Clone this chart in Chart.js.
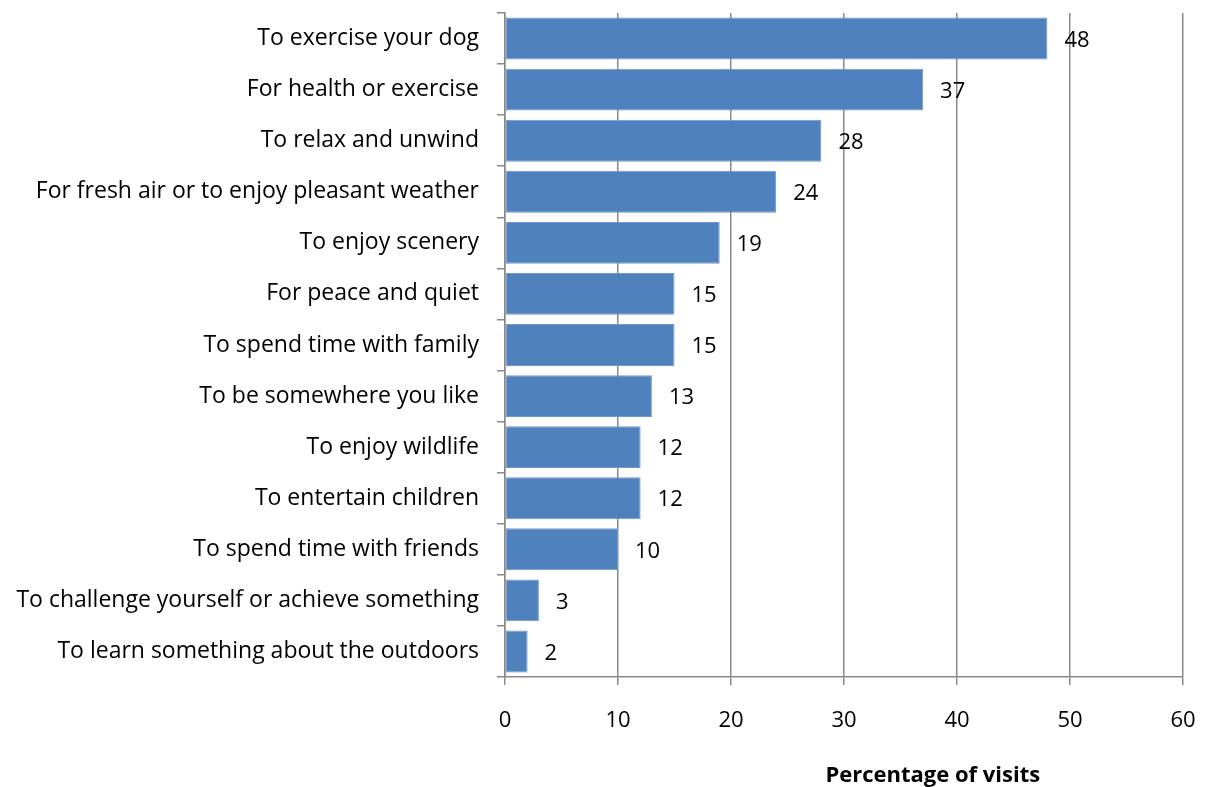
<!DOCTYPE html>
<html>
  <head>
    <script src="https://cdn.jsdelivr.net/npm/chart.js"></script>
  </head>
  <style>
    html, body {
      margin: 0;
      padding: 0;
      background: white;
    }
    #container {
      width: 1205px;
      height: 787px;
    }
  </style>
  <body>
    <div id="container">
      <canvas id="visitChart" width="1205" height="787"></canvas>
    </div>
    <script>
      const REASONS = [
        'To exercise your dog',
        'For health or exercise',
        'To relax and unwind',
        'For fresh air or to enjoy pleasant weather',
        'To enjoy scenery',
        'For peace and quiet',
        'To spend time with family',
        'To be somewhere you like',
        'To enjoy wildlife',
        'To entertain children',
        'To spend time with friends',
        'To challenge yourself or achieve something',
        'To learn something about the outdoors'
      ];
      const PERCENTAGES = [48, 37, 28, 24, 19, 15, 15, 13, 12, 12, 10, 3, 2];
      const X_TICKS = [0, 10, 20, 30, 40, 50, 60];
      const AXIS_TITLE = 'Percentage of visits';

      const FONT = '"Open Sans", "Liberation Sans", sans-serif';
      const GRID_GRAY = '#898989';
      const BAR_BLUE = '#4F81BD';

      // value labels just past the end of each bar
      const valueLabels = {
        id: 'valueLabels',
        afterDatasetsDraw(chart) {
          const ctx = chart.ctx;
          const meta = chart.getDatasetMeta(0);
          ctx.save();
          ctx.font = '22px ' + FONT;
          ctx.fillStyle = '#000';
          ctx.textAlign = 'left';
          ctx.textBaseline = 'middle';
          meta.data.forEach((bar, i) => {
            ctx.fillText(String(PERCENTAGES[i]), bar.x + 17, bar.y + 2);
          });
          ctx.restore();
        }
      };

      // bold axis title, sitting right of centre like the office chart
      const axisTitle = {
        id: 'axisTitle',
        afterDraw(chart) {
          const ctx = chart.ctx;
          const area = chart.chartArea;
          ctx.save();
          ctx.font = 'bold 22px ' + FONT;
          ctx.fillStyle = '#000';
          ctx.textAlign = 'center';
          ctx.textBaseline = 'alphabetic';
          ctx.fillText(AXIS_TITLE, area.left + (area.right - area.left) * 0.631, 782);
          ctx.restore();
        }
      };

      const drawChart = () => {
        const config = {
          type: 'bar',
          data: {
            labels: REASONS,
            datasets: [{
              data: PERCENTAGES,
              backgroundColor: BAR_BLUE,
              borderColor: '#6F98CB',
              borderWidth: 1,
              borderSkipped: false,
              barPercentage: 0.82,
              categoryPercentage: 1.0
            }]
          },
          options: {
            indexAxis: 'y',
            responsive: false,
            animation: false,
            layout: {
              padding: { top: 13, right: 22, bottom: 0, left: 0 }
            },
            scales: {
              x: {
                min: 0,
                max: 60,
                afterBuildTicks: (scale) => {
                  scale.ticks = X_TICKS.map(v => ({ value: v }));
                },
                afterFit: (scale) => {
                  scale.height = 110;
                  scale.paddingLeft = 0;
                  scale.paddingRight = 0;
                },
                grid: {
                  color: GRID_GRAY,
                  lineWidth: 1.5,
                  tickLength: 8
                },
                border: {
                  color: GRID_GRAY,
                  width: 1.5
                },
                ticks: {
                  color: '#000',
                  padding: 23,
                  font: { family: FONT, size: 22 }
                }
              },
              y: {
                afterFit: (scale) => {
                  scale.width = 505;
                  scale.paddingTop = 0;
                  scale.paddingBottom = 0;
                },
                grid: {
                  drawOnChartArea: false,
                  color: GRID_GRAY,
                  lineWidth: 1.5,
                  tickLength: 8
                },
                border: {
                  color: GRID_GRAY,
                  width: 1.5
                },
                ticks: {
                  color: '#000',
                  padding: 18,
                  autoSkip: false,
                  font: { family: FONT, size: 23 }
                }
              }
            },
            plugins: {
              legend: { display: false },
              tooltip: { enabled: false }
            }
          },
          plugins: [valueLabels, axisTitle]
        };

        return new Chart(document.getElementById('visitChart'), config);
      };

      drawChart();
    </script>
  </body>
</html>
